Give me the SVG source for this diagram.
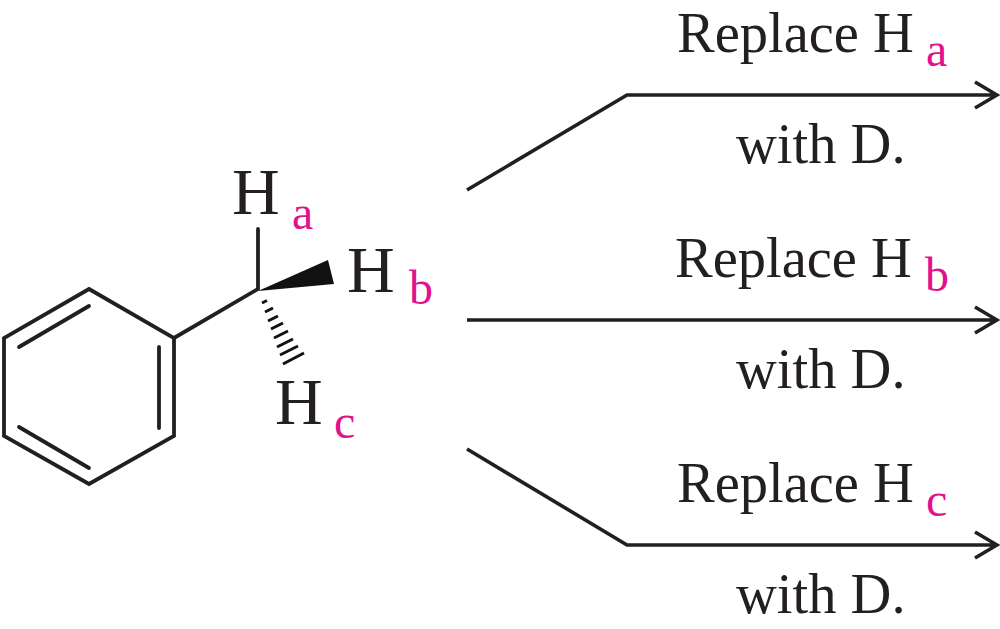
<svg xmlns="http://www.w3.org/2000/svg" width="1000" height="629" viewBox="0 0 1000 629">
<style>
.b{fill:none;stroke:#231f20;stroke-width:3.8;stroke-linecap:round;stroke-linejoin:miter}
.c{fill:none;stroke:#231f20;stroke-width:3.6;stroke-linejoin:miter}
.t{font-family:"Liberation Serif","Times New Roman",serif;fill:#231f20;font-size:56.5px}
.h{font-family:"Liberation Serif","Times New Roman",serif;fill:#231f20;font-size:66px}
.s{font-family:"Liberation Serif","Times New Roman",serif;fill:#e0128c;font-size:48px}
</style>
<rect width="1000" height="629" fill="#fff"/>
<g id="molecule">
<path class="b" d="M89 289L174 338V436L89 484L4 436V338Z"/>
<path class="b" d="M19 347L89 306M159 347V428M19 427L89 468"/>
<path class="b" d="M174 338L258 289V229"/>
<polygon points="258,291 328,260 334,284" fill="#111"/>
<path d="M262 303l5-2.500M265 312l8-4M268 321l10-5M271 329l12-6M274 338l14-7M277 347l16-8M280 355l18-9M283 364l21-11" stroke="#111" stroke-width="3" fill="none"/>
</g>
<g id="node-ha"><text class="h" x="232" y="214">H</text><text class="s" x="292" y="229">a</text></g>
<g id="node-hb"><text class="h" x="347" y="292">H</text><text class="s" x="409" y="304">b</text></g>
<g id="node-hc"><text class="h" x="275" y="424">H</text><text class="s" x="334" y="438">c</text></g>
<g id="connectors">
<path class="c" d="M467 190L627 95H995M975 82L997 95L975 108"/>
<path class="c" d="M467 320H995M975 307L997 320L975 333"/>
<path class="c" d="M467 449L627 545H995M975 532L997 545L975 558"/>
</g>
<g id="label-a"><text class="t" x="677" y="52">Replace H</text><text class="s" x="926" y="66">a</text><text class="t" x="736" y="163">with D.</text></g>
<g id="label-b"><text class="t" x="675" y="277">Replace H</text><text class="s" x="925" y="291">b</text><text class="t" x="736" y="388">with D.</text></g>
<g id="label-c"><text class="t" x="677" y="502">Replace H</text><text class="s" x="926" y="516">c</text><text class="t" x="736" y="613">with D.</text></g>
</svg>
